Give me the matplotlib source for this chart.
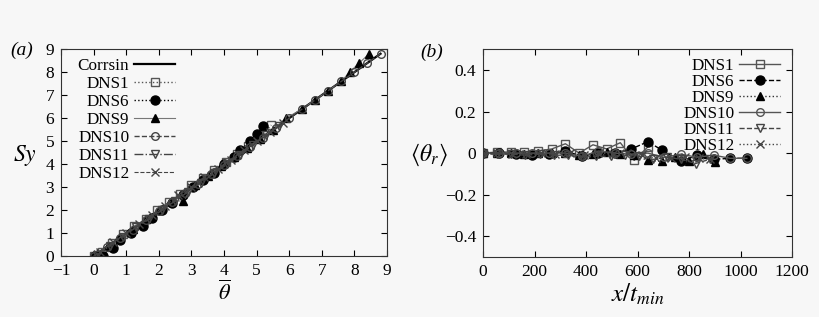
import matplotlib
matplotlib.use("Agg")
import matplotlib.pyplot as plt

# ---- panel (a): Sy against mean theta ----
corrsin_x = [0.0, 8.8]
corrsin_y = [0.0, 8.8]

dns1_x = [0.0, 0.25, 0.55, 0.9, 1.25, 1.6, 1.95, 2.3, 2.65, 3.0, 3.35, 3.7, 4.05, 4.4, 4.75, 5.1, 5.45]
dns1_y = [0.0, 0.2, 0.55, 0.95, 1.3, 1.6, 2.0, 2.35, 2.7, 3.1, 3.4, 3.75, 4.1, 4.45, 4.8, 5.15, 5.7]

dns6_x = [0.05, 0.3, 0.6, 0.8, 1.15, 1.5, 1.8, 2.1, 2.4, 2.75, 3.05, 3.35, 3.7, 4.0, 4.3, 4.5, 4.8, 5.0, 5.2]
dns6_y = [0.0, 0.0, 0.35, 0.7, 1.0, 1.3, 1.65, 2.0, 2.3, 2.65, 3.0, 3.3, 3.6, 4.0, 4.3, 4.6, 5.0, 5.3, 5.65]

dns9_x = [0.1, 0.45, 0.8, 1.2, 1.6, 2.0, 2.4, 2.75, 3.1, 3.5, 3.9, 4.3, 4.7, 5.1, 5.5, 5.9, 6.4, 6.8, 7.2, 7.6, 7.85, 8.15, 8.45]
dns9_y = [0.1, 0.45, 0.8, 1.2, 1.6, 2.0, 2.4, 2.4, 3.1, 3.5, 3.9, 4.3, 4.7, 5.1, 5.5, 6.0, 6.4, 6.8, 7.2, 7.6, 8.0, 8.4, 8.8]

dns10_x = [0.0, 0.4, 0.8, 1.2, 1.6, 2.0, 2.4, 2.8, 3.2, 3.6, 4.0, 4.4, 4.8, 5.2, 5.6, 6.0, 6.4, 6.8, 7.2, 7.6, 8.0, 8.4, 8.8]
dns10_y = [0.0, 0.4, 0.8, 1.15, 1.55, 1.95, 2.35, 2.75, 3.15, 3.55, 3.95, 4.35, 4.75, 5.15, 5.55, 6.0, 6.4, 6.8, 7.2, 7.6, 8.0, 8.4, 8.8]

dns11_x = [0.1, 0.5, 0.9, 1.3, 1.7, 2.1, 2.5, 2.9, 3.3, 3.7, 4.1, 4.5, 4.9, 5.3, 5.7]
dns11_y = [0.05, 0.45, 0.85, 1.25, 1.6, 2.0, 2.4, 2.8, 3.2, 3.6, 4.0, 4.4, 4.85, 5.25, 5.65]

dns12_x = [0.2, 0.6, 1.0, 1.4, 1.8, 2.2, 2.6, 3.0, 3.4, 3.8, 4.2, 4.6, 5.0, 5.4, 5.8]
dns12_y = [0.2, 0.6, 1.0, 1.4, 1.8, 2.2, 2.65, 3.0, 3.45, 3.8, 4.2, 4.6, 5.0, 5.4, 5.8]

# ---- panel (b): <theta_r> against x/t_min ----
b1_x = [0, 53, 107, 160, 213, 267, 320, 373, 427, 480, 533, 587, 640]
b1_y = [0.0, 0.005, 0.005, 0.005, 0.01, 0.02, 0.045, 0.0, 0.04, 0.02, 0.05, -0.035, 0.03]

b6_x = [0, 64, 128, 192, 256, 320, 384, 448, 512, 576, 640, 694, 768, 832, 896, 960, 1024]
b6_y = [0.0, 0.0, -0.005, -0.01, -0.005, 0.01, -0.015, 0.0, 0.0, 0.02, 0.055, 0.015, -0.04, -0.01, -0.03, -0.025, -0.025]

b9_x = [0, 53, 107, 160, 213, 267, 320, 373, 427, 480, 533, 587, 640, 693, 747, 800, 853, 900]
b9_y = [0.0, 0.0, 0.0, -0.005, 0.0, 0.0, 0.0, -0.01, -0.005, 0.005, -0.005, -0.01, -0.035, -0.04, -0.02, -0.04, -0.005, -0.045]

b10_x = [0, 64, 128, 192, 256, 320, 384, 448, 512, 576, 640, 704, 768, 832, 896, 960, 1024]
b10_y = [0.0, 0.0, 0.0, 0.0, 0.0, 0.0, -0.015, 0.01, 0.0, -0.005, 0.0, -0.02, -0.005, -0.02, -0.01, -0.025, -0.025]

b11_x = [0, 55, 110, 165, 220, 275, 330, 385, 440, 495, 550, 605, 660, 715, 770, 825, 880]
b11_y = [-0.005, -0.005, -0.005, -0.01, -0.005, -0.01, -0.01, -0.02, -0.015, -0.015, -0.01, -0.015, -0.03, -0.02, -0.03, -0.05, -0.03]

b12_x = [0, 56, 112, 168, 224, 280, 336, 392, 448, 504, 560, 616, 672, 728, 784, 840, 880]
b12_y = [0.0, 0.0, -0.005, -0.005, 0.0, -0.005, 0.0, -0.01, 0.0, -0.005, 0.0, -0.01, -0.025, -0.025, -0.02, -0.025, -0.03]

plt.rcParams['font.family'] = ['Liberation Serif', 'DejaVu Serif']
plt.rcParams['mathtext.fontset'] = 'stix'
plt.rcParams['font.size'] = 12.3
plt.rcParams['axes.unicode_minus'] = True

bg = '#f7f7f7'
fig = plt.figure(figsize=(8.2, 3.17), dpi=100, facecolor=bg)
ax1 = fig.add_axes([0.0744, 0.192, 0.3976, 0.653], facecolor=bg)
ax2 = fig.add_axes([0.589, 0.189, 0.377, 0.656], facecolor=bg)

ms = 5.5
ax1.plot(corrsin_x, corrsin_y, color='k', lw=1.6, label='Corrsin')
ax1.plot(dns1_x, dns1_y, color='#555555', ls=':', lw=1, marker='s', ms=ms, mfc='none', mec='#555555', label='DNS1')
ax1.plot(dns6_x, dns6_y, color='k', ls=':', lw=1, marker='o', ms=ms + 1, mfc='k', label='DNS6')
ax1.plot(dns9_x, dns9_y, color='#777777', ls='-', lw=0.8, marker='^', ms=ms, mfc='k', mec='k', label='DNS9')
ax1.plot(dns10_x, dns10_y, color='#444444', ls='--', lw=1, marker='o', ms=ms, mfc='none', mec='#444444', label='DNS10')
ax1.plot(dns11_x, dns11_y, color='#444444', ls='-.', lw=1, marker='v', ms=ms, mfc='none', mec='#444444', label='DNS11')
ax1.plot(dns12_x, dns12_y, color='#444444', ls='--', lw=0.8, marker='x', ms=ms, mec='#444444', label='DNS12')

ax1.set_xlim(-1, 9)
ax1.set_ylim(0, 9)
ax1.set_xticks(range(-1, 10))
ax1.set_yticks(range(0, 10))
ax1.set_xlabel(r'$\overline{\theta}$', fontsize=16, labelpad=1)
ax1.legend(loc='upper left', frameon=False, markerfirst=False, handlelength=2.4,
           labelspacing=0.12, borderaxespad=0.1, handletextpad=0.3, bbox_to_anchor=(0.025, 1.0))

ax2.plot(b1_x, b1_y, color='#555555', ls='-', lw=1, marker='s', ms=ms, mfc='none', mec='#555555', label='DNS1')
ax2.plot(b6_x, b6_y, color='k', ls='--', lw=1, marker='o', ms=ms + 1, mfc='k', label='DNS6')
ax2.plot(b9_x, b9_y, color='#333333', ls=':', lw=1, marker='^', ms=ms, mfc='k', mec='k', label='DNS9')
ax2.plot(b10_x, b10_y, color='#555555', ls='-', lw=1, marker='o', ms=ms, mfc='none', mec='#555555', label='DNS10')
ax2.plot(b11_x, b11_y, color='#444444', ls='--', lw=1, marker='v', ms=ms, mfc='none', mec='#444444', label='DNS11')
ax2.plot(b12_x, b12_y, color='#444444', ls=':', lw=1, marker='x', ms=ms, mec='#444444', label='DNS12')

ax2.set_xlim(0, 1200)
ax2.set_ylim(-0.5, 0.5)
ax2.set_xticks(range(0, 1201, 200))
ax2.set_yticks([-0.4, -0.2, 0, 0.2, 0.4])
ax2.set_yticklabels(['\u22120.4', '\u22120.2', '0', '0.2', '0.4'])
ax2.set_xlabel(r'$x/t_{min}$', fontsize=18, labelpad=1)
ax2.legend(loc='upper right', frameon=False, markerfirst=False, handlelength=2.4,
           labelspacing=0.0, borderaxespad=0.1, handletextpad=0.3, bbox_to_anchor=(0.99, 1.0))

# panel tags and y labels placed in figure coordinates
fig.text(0.027, 0.842, '(a)', fontsize=14, style='italic', ha='center', va='center')
fig.text(0.527, 0.834, '(b)', fontsize=14, style='italic', ha='center', va='center')
fig.text(0.030, 0.51, r'$Sy$', fontsize=17, ha='center', va='center')
fig.text(0.523, 0.51, r'$\langle\theta_r\rangle$', fontsize=17, ha='center', va='center')

for ax in (ax1, ax2):
    ax.tick_params(direction='in', top=True, right=True, length=4, width=0.8, pad=5, labelsize=12.5)
    for s in ax.spines.values():
        s.set_color('#333333')
        s.set_linewidth(0.8)

fig.savefig('out.png', dpi=100, facecolor=bg)
